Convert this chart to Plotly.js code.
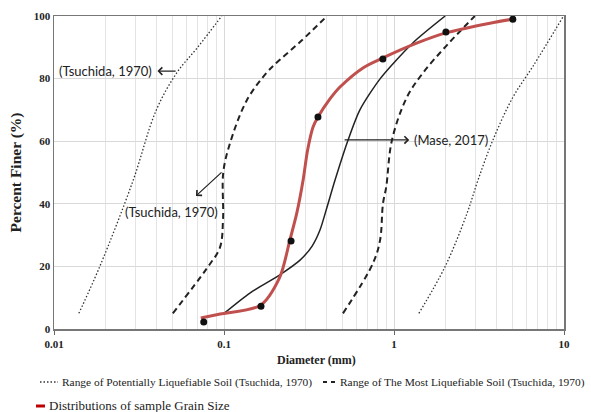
<!DOCTYPE html>
<html>
<head>
<meta charset="utf-8">
<script src="https://cdn.plot.ly/plotly-3.0.1.min.js"></script>
<style>html,body{margin:0;padding:0;background:#fff;}#chart{width:591px;height:412px;}</style>
</head>
<body>
<div id="chart"></div>
<script>
// Range of Potentially Liquefiable Soil (Tsuchida, 1970) - fine-side bound
const potLowD = [0.014, 0.0186, 0.029, 0.040, 0.053, 0.070, 0.097];
const potLowP = [5, 20, 47, 70, 82, 90, 100];
// Range of Potentially Liquefiable Soil - coarse-side bound
const potHighD = [1.40, 2.0, 2.69, 3.12, 3.82, 5.0, 6.58, 9.86];
const potHighP = [5, 20, 37, 47.6, 60.4, 74, 84, 99.7];
// Range of The Most Liquefiable Soil - fine-side bound
const mostLowD = [0.050, 0.0795, 0.0946, 0.0987, 0.0990, 0.108, 0.136, 0.179, 0.213, 0.28, 0.404];
const mostLowP = [5, 19.5, 26, 35, 50, 59, 73, 82, 86, 91.7, 100];
// Range of The Most Liquefiable Soil - coarse-side bound
const mostHighD = [0.501, 0.752, 0.828, 0.861, 0.90, 0.973, 1.19, 1.48, 2.05, 2.99];
const mostHighP = [5, 21, 28.4, 40, 45.4, 60.4, 74, 81.8, 90.7, 100];
// Mase, 2017
const maseD = [0.1, 0.142, 0.213, 0.28, 0.33, 0.367, 0.404, 0.45, 0.537, 0.63, 0.83, 1.29, 2.0];
const maseP = [5, 11.5, 17.3, 22, 26.5, 31.6, 39, 47.6, 60.4, 70, 80, 91.4, 100];
// Distributions of sample grain size (curve)
const sampleCurveD = [0.073, 0.095, 0.163, 0.213, 0.244, 0.268, 0.292, 0.31, 0.334, 0.357, 0.42, 0.481, 0.66, 0.86, 1.37, 2.02, 3.67, 5.0];
const sampleCurveP = [3.5, 4.8, 7.5, 16.6, 28.4, 37, 47.6, 57, 64.5, 67.7, 73.5, 77.3, 83.5, 86.6, 91.4, 94.6, 97.7, 99];
// Sample points
const sampleD = [0.076, 0.165, 0.248, 0.357, 0.86, 2.02, 5.0];
const sampleP = [2.2, 7.3, 28.1, 67.7, 86.3, 94.9, 99];

const xTickVals = [0.01, 0.1, 1, 10];
const xTickText = ['0.01', '0.1', '1', '10'];
const yTickVals = [0, 20, 40, 60, 80, 100];

const legendLabels = [
  'Range of Potentially Liquefiable Soil (Tsuchida, 1970)',
  'Range of The Most Liquefiable Soil (Tsuchida, 1970)',
  'Distributions of sample Grain Size'
];

const serif = 'Liberation Serif, Times New Roman, serif';
const sans = 'Lato, sans-serif';

const W = 591, H = 412, ML = 54, MR = 27, MT = 16, MB = 83;
const PW = W - ML - MR, PH = H - MT - MB;
const px = v => (v - ML) / PW;
const py = v => (H - MB - v) / PH;

const dotStyle = {color: '#333', width: 1.3, dash: '1.5px,2px'};
const dashStyle = {color: '#222', width: 2, dash: '6px,4px'};
const redStyle = {color: '#c0504d', width: 3};

const traces = [
  {x: potLowD, y: potLowP, mode: 'lines', line: Object.assign({shape: 'spline'}, dotStyle), name: legendLabels[0]},
  {x: potHighD, y: potHighP, mode: 'lines', line: Object.assign({shape: 'spline'}, dotStyle), name: legendLabels[0]},
  {x: mostLowD, y: mostLowP, mode: 'lines', line: Object.assign({shape: 'spline'}, dashStyle), name: legendLabels[1]},
  {x: mostHighD, y: mostHighP, mode: 'lines', line: Object.assign({shape: 'spline'}, dashStyle), name: legendLabels[1]},
  {x: maseD, y: maseP, mode: 'lines', line: {color: '#222', width: 1.5, shape: 'spline', smoothing: 0.7}, name: 'Mase, 2017'},
  {x: sampleCurveD, y: sampleCurveP, mode: 'lines', line: Object.assign({shape: 'spline', smoothing: 0.8}, redStyle), name: legendLabels[2]},
  {x: sampleD, y: sampleP, mode: 'markers', marker: {color: '#111', size: 7}, name: 'Samples'}
];

const tf = {family: serif, size: 11, color: '#222', weight: 'bold'};

const layout = {
  width: W, height: H,
  margin: {l: ML, r: MR, t: MT, b: MB, autoexpand: false},
  paper_bgcolor: '#fff', plot_bgcolor: '#fff',
  showlegend: false,
  xaxis: {type: 'log', range: [-2, 1], tickvals: xTickVals, ticktext: xTickText,
    showgrid: true, gridcolor: '#d9d9d9', gridwidth: 1,
    minor: {dtick: 'D1', showgrid: true, gridcolor: '#e4e4e4', gridwidth: 1},
    ticks: 'outside', ticklen: 4, tickcolor: '#666',
    showline: true, linecolor: '#777', linewidth: 1.5, mirror: true,
    tickfont: tf, zeroline: false},
  yaxis: {range: [0, 100], tickvals: yTickVals, showgrid: true, gridcolor: '#d9d9d9', gridwidth: 1,
    showline: true, linecolor: '#777', linewidth: 1.5, mirror: true,
    ticks: '', tickfont: tf,
    title: {text: 'Percent Finer (%)', font: {family: serif, size: 15.5, color: '#222', weight: 'bold'}, standoff: 8},
    zeroline: false},
  shapes: [
    {type: 'line', xref: 'paper', yref: 'paper', x0: px(40), x1: px(58), y0: py(382), y1: py(382), line: dotStyle},
    {type: 'line', xref: 'paper', yref: 'paper', x0: px(323), x1: px(336), y0: py(382), y1: py(382),
     line: {color: '#222', width: 2, dash: '4px,4px'}},
    {type: 'line', xref: 'paper', yref: 'paper', x0: px(36), x1: px(45), y0: py(406), y1: py(406), line: {color: '#c00000', width: 3}}
  ],
  annotations: [
    {xref: 'paper', yref: 'paper', x: px(316), y: py(360), xanchor: 'center', yanchor: 'middle', showarrow: false,
     text: 'Diameter (mm)', font: {family: serif, size: 12, color: '#222', weight: 'bold'}},
    // legend texts
    {xref: 'paper', yref: 'paper', x: px(60), y: py(382), xanchor: 'left', yanchor: 'middle', showarrow: false,
     text: legendLabels[0], font: {family: serif, size: 11.4, color: '#222'}},
    {xref: 'paper', yref: 'paper', x: px(338), y: py(382), xanchor: 'left', yanchor: 'middle', showarrow: false,
     text: legendLabels[1], font: {family: serif, size: 11.4, color: '#222'}},
    {xref: 'paper', yref: 'paper', x: px(47), y: py(405), xanchor: 'left', yanchor: 'middle', showarrow: false,
     text: legendLabels[2], font: {family: serif, size: 13, color: '#222'}},
    // chart labels
    {xref: 'x', yref: 'y', x: Math.log10(0.0104), y: 82.4, xanchor: 'left', yanchor: 'middle', showarrow: false,
     text: '(Tsuchida, 1970)', font: {family: sans, size: 13, color: '#222'}},
    {xref: 'x', yref: 'y', x: Math.log10(0.0254), y: 37.5, xanchor: 'left', yanchor: 'middle', showarrow: false,
     text: '(Tsuchida, 1970)', font: {family: sans, size: 13, color: '#222'}},
    {xref: 'x', yref: 'y', x: Math.log10(1.28), y: 60.4, xanchor: 'left', yanchor: 'middle', showarrow: false,
     text: '(Mase, 2017)', font: {family: sans, size: 13, color: '#222'}},
    // arrows
    {xref: 'x', yref: 'y', axref: 'x', ayref: 'y', x: Math.log10(0.0406), y: 82.4, ax: Math.log10(0.053), ay: 82.4,
     text: '', showarrow: true, arrowhead: 4, arrowsize: 1.2, arrowwidth: 1.2, arrowcolor: '#222'},
    {xref: 'x', yref: 'y', axref: 'x', ayref: 'y', x: Math.log10(0.0684), y: 42.5, ax: Math.log10(0.0987), ay: 50.5,
     text: '', showarrow: true, arrowhead: 4, arrowsize: 1.2, arrowwidth: 1.2, arrowcolor: '#222'},
    {xref: 'x', yref: 'y', axref: 'x', ayref: 'y', x: Math.log10(1.23), y: 60.4, ax: Math.log10(0.502), ay: 60.4,
     text: '', showarrow: true, arrowhead: 4, arrowsize: 1.2, arrowwidth: 1.2, arrowcolor: '#222'}
  ]
};

Plotly.newPlot('chart', traces, layout, {displayModeBar: false, staticPlot: true});
</script>
</body>
</html>
